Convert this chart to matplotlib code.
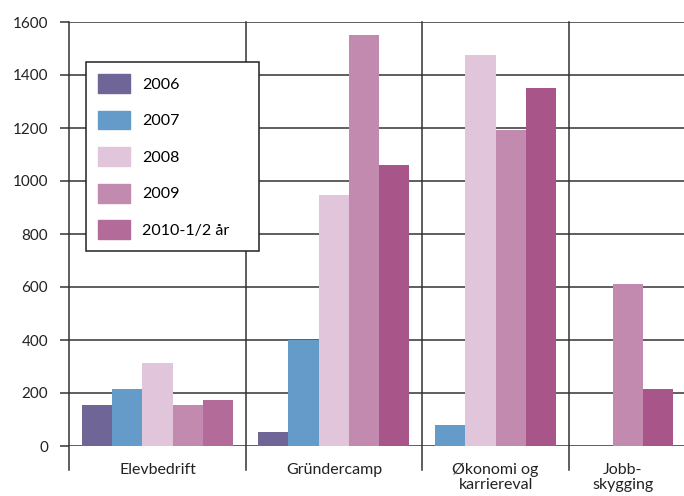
import matplotlib.pyplot as plt

plt.rcParams['font.family'] = ['Lato', 'DejaVu Sans']

categories = ["Elevbedrift", "Gründercamp", "Økonomi og\nkarriereval", "Jobb-\nskygging"]
years = ["2006", "2007", "2008", "2009", "2010-1/2 år"]
# values per year, one number per category (0 = no bar)
v2006 = [155, 53, 0, 0]
v2007 = [215, 401, 78, 0]
v2008 = [313, 947, 1475, 0]
v2009 = [155, 1552, 1192, 611]
v2010 = [174, 1060, 1351, 215]

colors = ["#6f6596", "#659bc8", "#e1c6db", "#c38aaf", "#b36b9a"]
dark2010 = "#a8558a"

# layout in bar-width units
bar_w = 1.0
group_start = [0.43, 6.26, 12.12, 18.01]
edges = [0, 5.86, 11.69, 16.56, 20.1]

fig = plt.figure(figsize=(6.84, 4.96), dpi=100)
ax = fig.add_axes([69 / 684, 50 / 496, 1 - 69 / 684, 424 / 496])

series = [v2006, v2007, v2008, v2009, v2010]
for ci in range(len(categories)):
    x = group_start[ci]
    for si, vals in enumerate(series):
        if vals[ci] <= 0:
            continue
        c = colors[si]
        if si == 4 and ci > 0:
            c = dark2010
        ax.bar(x, vals[ci], width=bar_w, align='edge', color=c, zorder=3)
        x += bar_w

ax.set_xlim(0, 20.36)
ax.set_ylim(0, 1600)
ax.set_yticks(range(0, 1601, 200))
ax.yaxis.grid(True, color="#333333", lw=1.1, zorder=1)
ax.tick_params(axis='y', length=6.5, width=1.1, color="#333333", pad=8.5,
               labelsize=11, labelcolor="#222222")
for s in ax.spines.values():
    s.set_visible(False)

# vertical separators, running below the axis
for e in edges[:-1]:
    ax.plot([e, e], [-90, 1600], color="#333333", lw=1.1, clip_on=False, zorder=2)

mids = [(edges[i] + edges[i + 1]) / 2 for i in range(len(categories))]
ax.set_xticks(mids)
ax.set_xticklabels(categories, fontsize=11.5, color="#222222", linespacing=1.1)
ax.tick_params(axis='x', length=0, pad=12)

handles = [plt.Rectangle((0, 0), 1, 1, color=c) for c in colors]
leg = fig.legend(handles, years, loc='upper left',
                 bbox_to_anchor=(86 / 684, 188 / 496, 173 / 684, (496 - 62) / 496 - 188 / 496),
                 bbox_transform=fig.transFigure, mode='expand', borderaxespad=0,
                 fontsize=11.5, handlelength=2.0, handleheight=1.45,
                 labelspacing=1.1, handletextpad=0.75, borderpad=0.75,
                 fancybox=False, framealpha=1, edgecolor="#222222")
leg.get_frame().set_linewidth(1.1)
leg.set_zorder(10)

fig.savefig("out.png", dpi=100)
